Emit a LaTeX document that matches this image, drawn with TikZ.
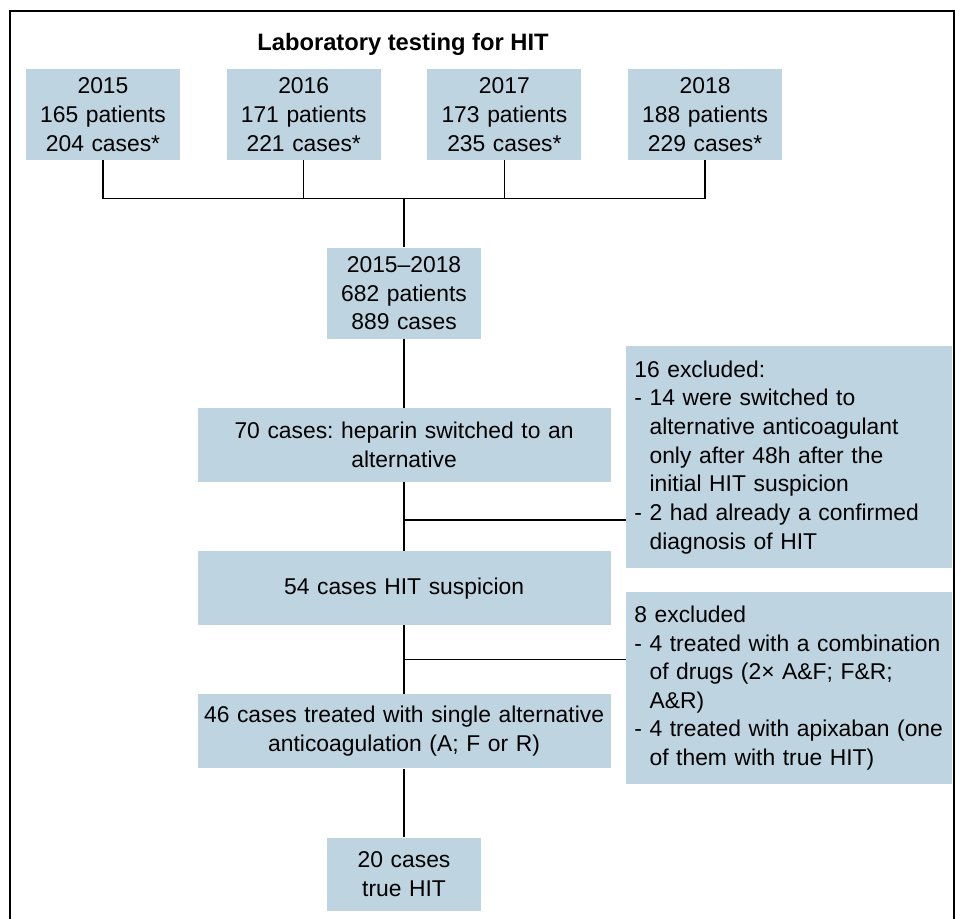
\documentclass[tikz,border=0pt]{standalone}
\usepackage{fontspec}
\setmainfont{Liberation Sans}
\usepackage{xcolor}
\definecolor{hitblue}{RGB}{190, 212, 224}
\usepackage{tikz}
\usetikzlibrary{positioning, calc}
\frenchspacing
\newcommand{\boxfont}{\fontsize{13}{16.3}\selectfont}
\newcommand{\indt}{\hphantom{- }}

\begin{document}
\begin{tikzpicture}[node distance=1.37cm, auto,
        yearbox/.style={rectangle, fill=hitblue, inner sep=0pt, text width=3.08cm, text centered, minimum height=1.82cm, font=\boxfont},
        stagebox/.style={rectangle, fill=hitblue, inner sep=0pt, text width=8.26cm, text centered, minimum height=1.48cm, font=\boxfont},
        exclbox/.style={rectangle, fill=hitblue, inner xsep=0.16cm, inner ysep=0pt, text width=6.2cm, align=left, font=\boxfont},
        titlelabel/.style={font=\fontsize{13.5}{16}\selectfont\bfseries},
        frameline/.style={draw=black, line width=1.2pt},
        link/.style={draw=black, line width=0.8pt}]

        \useasboundingbox (0,0) rectangle (19.1,-18.38);
        \draw [frameline] (0.2,-18.38) -- (0.2,-0.22) -- (19.08,-0.22) -- (19.08,-18.38);

        \node [titlelabel, anchor=base] (title) at (8.06,-1.0) {Laboratory testing for HIT};

        % one box per year
        \node [yearbox] (y2015) at (2.06,-2.29) {2015\\165 patients\\204 cases*};
        \node [yearbox, right=0.92cm of y2015] (y2016) {2016\\171 patients\\221 cases*};
        \node [yearbox, right=0.92cm of y2016] (y2017) {2017\\173 patients\\235 cases*};
        \node [yearbox, right=0.92cm of y2017] (y2018) {2018\\188 patients\\229 cases*};

        \coordinate [below=0.76cm of y2015.south] (barleft);
        \coordinate (hub) at ($(y2016.south |- barleft)!0.5!(y2017.south |- barleft)$);

        % main column
        \node [yearbox, below=0.98cm of hub] (total) {2015--2018\\682 patients\\889 cases};
        \node [stagebox, below=of total] (switch) {70 cases: heparin switched to an\\alternative};
        \node [stagebox, below=of switch] (susp) {54 cases HIT suspicion};
        \node [stagebox, below=of susp] (single) {46 cases treated with single alternative\\anticoagulation (A; F or R)};
        \node [yearbox, below=of single, minimum height=1.46cm] (truehit) {20 cases\\true HIT};

        % exclusions
        \node [exclbox, anchor=north west, minimum height=4.44cm] (excl1) at (12.52,-6.92) {16 excluded:\\
        - 14 were switched to\\
        \indt alternative anticoagulant\\
        \indt only after 48h after the\\
        \indt initial HIT suspicion\\
        - 2 had already a confirmed\\
        \indt diagnosis of HIT};
        \node [exclbox, below=0.46cm of excl1, minimum height=3.84cm] (excl2) {8 excluded\\
        - 4 treated with a combination\\
        \indt of drugs (2× A\&F; F\&R;\\
        \indt A\&R)\\
        - 4 treated with apixaban (one\\
        \indt of them with true HIT)};

        \path [link] (y2015.south) -- (barleft) -| (y2018.south);
        \foreach \yr in {y2016, y2017}
            \path [link] (\yr.south) -- (\yr.south |- barleft);
        \path [link] (hub) -- (total.north);
        \path [link] (total) -- (switch);
        \path [link] (switch) -- (susp);
        \path [link] (susp) -- (single);
        \path [link] (single) -- (truehit);

        \coordinate (branch1) at ($(switch.south)!0.55!(susp.north)$);
        \coordinate (branch2) at ($(susp.south)!0.5!(single.north)$);
        \path [link] (branch1) -- (branch1 -| excl1.west);
        \path [link] (branch2) -- (branch2 -| excl2.west);
    \end{tikzpicture}
\end{document}
